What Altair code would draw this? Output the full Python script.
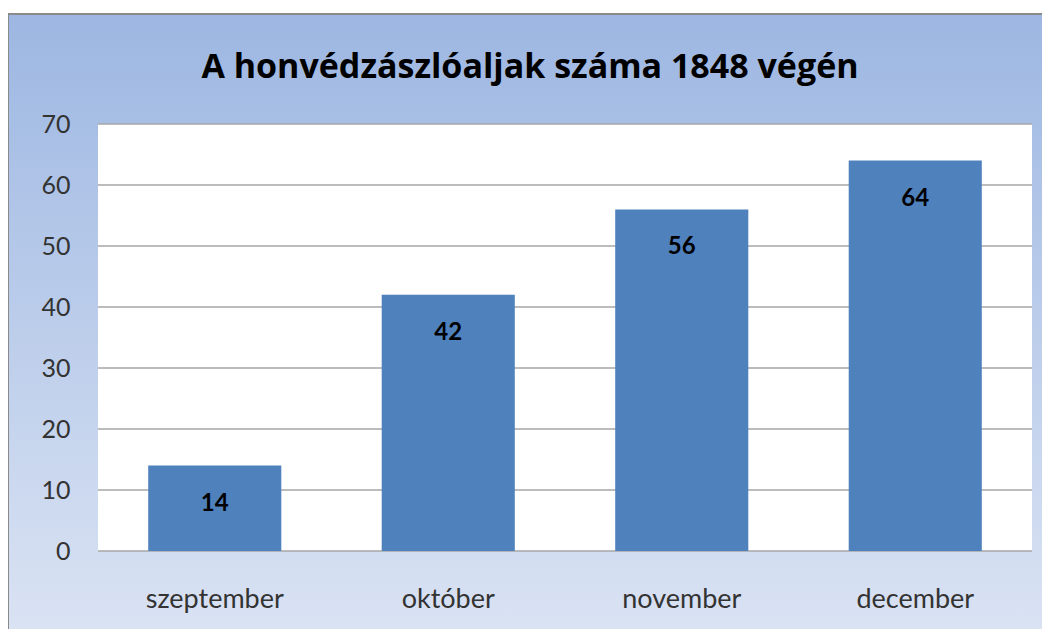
import altair as alt
import pandas as pd

months = ["szeptember", "október", "november", "december"]
counts = [14, 42, 56, 64]
y_ticks = [0, 10, 20, 30, 40, 50, 60, 70]
title_text = "A honvédzászlóaljak száma 1848 végén"

W, H = 934, 427
FONT = "Lato"

bars_df = pd.DataFrame({"month": months, "n": counts})
grid_df = pd.DataFrame({"v": y_ticks})
one = pd.DataFrame({"a": [0]})

yscale = alt.Scale(domain=[0, 70])
yaxis = alt.Axis(values=y_ticks, grid=False, domain=False, ticks=False,
                 labelFont=FONT, labelFontSize=25, labelColor="#333333",
                 labelPadding=28, zindex=1)

bg = alt.Chart(one).mark_rect(
    fill=alt.LinearGradient(
        gradient="linear",
        stops=[alt.GradientStop(color="#9db7e2", offset=0),
               alt.GradientStop(color="#dde5f4", offset=1)],
        x1=0, x2=0, y1=0, y2=1),
    stroke="#8a8a8a", strokeWidth=2,
).encode(x=alt.value(-90), x2=alt.value(1060), y=alt.value(-110), y2=alt.value(540))

plot_bg = alt.Chart(one).mark_rect(fill="white").encode(
    x=alt.value(0), x2=alt.value(W), y=alt.value(0), y2=alt.value(H))

grid = alt.Chart(grid_df).mark_rule(color="#a6a6a6", strokeWidth=1.5).encode(
    y=alt.Y("v:Q", scale=yscale, title=None, axis=yaxis),
    x=alt.value(0), x2=alt.value(W))

xenc = alt.X("month:N", sort=months, title=None,
             scale=alt.Scale(paddingInner=0.43, paddingOuter=0.215),
             axis=alt.Axis(domain=False, ticks=False, labelAngle=0, labelFont=FONT,
                           labelFontSize=27, labelColor="#333333", labelPadding=35,
                           zindex=1))

bars = alt.Chart(bars_df).mark_bar(color="#4f81bd").encode(
    x=xenc,
    y=alt.Y("n:Q", scale=yscale, title=None, axis=yaxis))

labels = alt.Chart(bars_df).mark_text(
    font=FONT, fontSize=24, fontWeight="bold", color="black", baseline="middle", dy=38
).encode(x=alt.X("month:N", sort=months), y=alt.Y("n:Q", scale=yscale), text="n:Q")

title = alt.Chart(one).mark_text(
    text=title_text, font="Open Sans", fontSize=34, fontWeight="bold", color="black",
    align="center", baseline="middle"
).encode(x=alt.value(432), y=alt.value(-56))

chart = alt.layer(bg, plot_bg, grid, bars, labels, title).properties(
    width=W, height=H,
    autosize=alt.AutoSizeParams(type="none"),
    padding={"left": 90, "top": 116, "right": 10, "bottom": 78},
    background="white",
).configure_view(stroke=None)

chart.save("out.html", embed_options={"renderer": "svg", "actions": False})
